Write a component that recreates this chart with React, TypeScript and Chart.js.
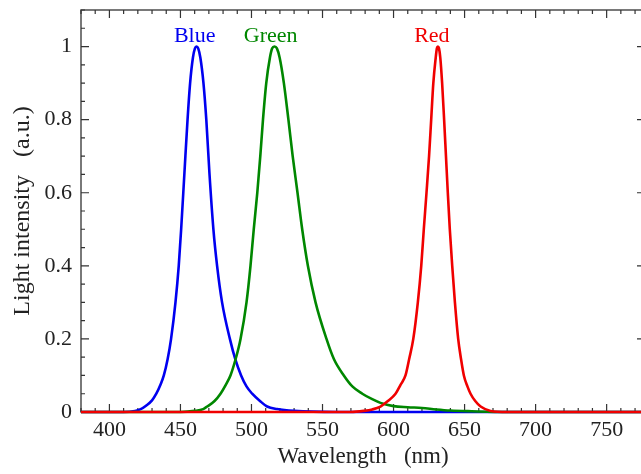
import React, { useEffect, useRef } from "react";
import { Chart, registerables } from "chart.js";

Chart.register(...registerables);

// ---- data (wavelength in nm, normalized intensity) ----
const blueWl = [380, 410, 418, 422, 426, 430, 433, 436, 438.3, 441, 443.4, 446.5, 448.8, 450.5, 452.8, 455, 456.8, 458.8, 460.2, 461.3, 462.5, 464, 466.2, 468.2, 470.4, 473.2, 475.8, 479.3, 484.8, 488.7, 492.7, 496.5, 500.5, 506, 511, 518, 530, 560, 777];
const blueVal = [0, 0, 0.003, 0.008, 0.018, 0.032, 0.05, 0.075, 0.1, 0.145, 0.2, 0.3, 0.4, 0.5, 0.654, 0.8, 0.9, 0.97, 0.995, 1.0, 0.995, 0.97, 0.9, 0.8, 0.654, 0.5, 0.4, 0.3, 0.2, 0.143, 0.1, 0.07, 0.05, 0.03, 0.015, 0.008, 0.003, 0, 0];

const greenWl = [380, 450, 460, 466, 468.8, 474, 478.2, 482, 485.2, 488.7, 492.3, 496.5, 499.3, 501.6, 504.1, 506.2, 508.1, 510.4, 513, 514.6, 516.2, 517.9, 519.8, 522.8, 526, 529, 532.4, 535.7, 539.7, 545.1, 552.8, 558, 565, 571, 578, 585, 590.8, 600, 610, 620, 630, 640, 655, 680, 777];
const greenVal = [0, 0, 0.003, 0.008, 0.015, 0.03, 0.05, 0.075, 0.1, 0.143, 0.2, 0.3, 0.4, 0.5, 0.6, 0.7, 0.8, 0.9, 0.97, 0.995, 1.0, 0.995, 0.97, 0.9, 0.8, 0.7, 0.6, 0.5, 0.4, 0.3, 0.2, 0.145, 0.1, 0.07, 0.05, 0.035, 0.025, 0.016, 0.013, 0.011, 0.007, 0.004, 0.002, 0, 0];

const redWl = [380, 570, 579, 585, 590.8, 596, 601.4, 605, 608.4, 611, 613.9, 617.1, 619.5, 621.3, 623.2, 625, 626.5, 628, 629.7, 630.5, 631.2, 632, 632.9, 634.2, 635.6, 636.9, 638.2, 639.6, 641.3, 643.2, 645.5, 647.5, 649.5, 652, 654.2, 657.5, 661.3, 668.3, 680, 777];
const redVal = [0, 0, 0.003, 0.007, 0.015, 0.03, 0.05, 0.075, 0.1, 0.145, 0.2, 0.3, 0.4, 0.5, 0.6, 0.7, 0.8, 0.9, 0.97, 0.995, 1.0, 0.995, 0.97, 0.9, 0.8, 0.7, 0.6, 0.5, 0.4, 0.3, 0.2, 0.145, 0.1, 0.07, 0.05, 0.03, 0.015, 0.003, 0, 0];

const seriesNames = ["Blue", "Green", "Red"];
const seriesColors = ["rgb(0,0,240)", "rgb(0,135,0)", "rgb(240,0,0)"];
const labelWl = [460, 513.5, 627];
const labelVal = [1.012, 1.012, 1.012];

const xTicks = [400, 450, 500, 550, 600, 650, 700, 750];
const yTicks = [0, 0.2, 0.4, 0.6, 0.8, 1];
const yTickLabels = ["0", "0.2", "0.4", "0.6", "0.8", "1"];

const X_MIN = 380;
const X_MAX = 777;
const Y_MIN = 0;
const Y_MAX = 1.1;

const SERIF = '"Liberation Serif", "Times New Roman", serif';

const framePlugin = {
  id: "frame",
  beforeDatasetsDraw(chart: any) {
    const { ctx, chartArea: a, scales } = chart;
    const x = scales.x;
    const y = scales.y;
    ctx.save();
    ctx.strokeStyle = "#4d4d4d";
    ctx.lineWidth = 1.5;
    ctx.strokeRect(a.left, a.top, a.right - a.left, a.bottom - a.top);
    ctx.strokeStyle = "#333";
    ctx.lineWidth = 1.2;
    ctx.beginPath();
    for (let v = 380; v <= 780; v += 10) {
      const px = x.getPixelForValue(v);
      if (px < a.left - 0.5 || px > a.right + 0.5) continue;
      const len = v % 50 === 0 ? 8 : 4;
      ctx.moveTo(px, a.bottom);
      ctx.lineTo(px, a.bottom - len);
      ctx.moveTo(px, a.top);
      ctx.lineTo(px, a.top + len);
    }
    for (let i = 0; i <= 22; i++) {
      const v = i * 0.05;
      const py = y.getPixelForValue(v);
      if (py < a.top - 0.5 || py > a.bottom + 0.5) continue;
      const len = i % 4 === 0 ? 8 : 4;
      ctx.moveTo(a.left, py);
      ctx.lineTo(a.left + len, py);
      ctx.moveTo(a.right, py);
      ctx.lineTo(a.right - len, py);
    }
    ctx.stroke();
    ctx.restore();
  },
  afterDatasetsDraw(chart: any) {
    const { ctx, scales } = chart;
    ctx.save();
    ctx.font = `22px ${SERIF}`;
    ctx.textAlign = "center";
    ctx.textBaseline = "alphabetic";
    seriesNames.forEach((name, i) => {
      ctx.fillStyle = seriesColors[i];
      ctx.fillText(name, scales.x.getPixelForValue(labelWl[i]), scales.y.getPixelForValue(labelVal[i]));
    });
    ctx.restore();
  },
};

export default function App() {
  const ref = useRef<HTMLCanvasElement | null>(null);

  useEffect(() => {
    if (!ref.current) return;
    const mk = (wl: number[], val: number[]) => wl.map((w, i) => ({ x: w, y: val[i] }));
    const datasets = [
      { label: "Red", data: mk(redWl, redVal), color: seriesColors[2], order: 0 },
      { label: "Green", data: mk(greenWl, greenVal), color: seriesColors[1], order: 1 },
      { label: "Blue", data: mk(blueWl, blueVal), color: seriesColors[0], order: 2 },
    ].map((d) => ({
      label: d.label,
      data: d.data,
      order: d.order,
      showLine: true,
      borderColor: d.color,
      backgroundColor: d.color,
      borderWidth: 2.6,
      pointRadius: 0,
      pointHoverRadius: 0,
      cubicInterpolationMode: "monotone" as const,
      clip: false as any,
    }));

    const chart = new Chart(ref.current, {
      type: "scatter",
      data: { datasets },
      plugins: [framePlugin],
      options: {
        animation: false,
        responsive: false,
        events: [],
        layout: { padding: { top: 10, right: 5, left: 0, bottom: 0 } },
        plugins: { legend: { display: false }, tooltip: { enabled: false } },
        scales: {
          x: {
            type: "linear",
            min: X_MIN,
            max: X_MAX,
            afterBuildTicks: (s: any) => {
              s.ticks = xTicks.map((v) => ({ value: v }));
            },
            afterFit: (s: any) => {
              s.height = 62;
              s.paddingLeft = 0;
              s.paddingRight = 0;
            },
            grid: { display: false, drawTicks: false },
            border: { display: false },
            ticks: {
              autoSkip: false,
              maxRotation: 0,
              padding: 5,
              color: "#222",
              font: { family: SERIF, size: 22 },
              callback: (v: any) => String(v),
            },
            title: {
              display: true,
              text: "Wavelength   (nm)",
              color: "#222",
              font: { family: SERIF, size: 23 },
              padding: { top: 0, bottom: 3 },
            },
          },
          y: {
            type: "linear",
            min: Y_MIN,
            max: Y_MAX,
            afterBuildTicks: (s: any) => {
              s.ticks = yTicks.map((v) => ({ value: v }));
            },
            afterFit: (s: any) => {
              s.width = 81;
              s.paddingTop = 0;
              s.paddingBottom = 0;
            },
            grid: { display: false, drawTicks: false },
            border: { display: false },
            ticks: {
              autoSkip: false,
              padding: 9,
              color: "#222",
              font: { family: SERIF, size: 22 },
              callback: (v: any) => {
                const i = yTicks.indexOf(Number(v));
                return i >= 0 ? yTickLabels[i] : "";
              },
            },
            title: {
              display: true,
              text: "Light intensity   (a.u.)",
              color: "#222",
              font: { family: SERIF, size: 24 },
              padding: { top: 8, bottom: 0 },
            },
          },
        },
      },
    });
    return () => chart.destroy();
  }, []);

  return (
    <div style={{ position: "fixed", left: 0, top: 0, width: 641, height: 474, overflow: "hidden", background: "#fff" }}>
      <canvas ref={ref} width={650} height={474} style={{ display: "block", width: 650, height: 474 }} />
    </div>
  );
}
